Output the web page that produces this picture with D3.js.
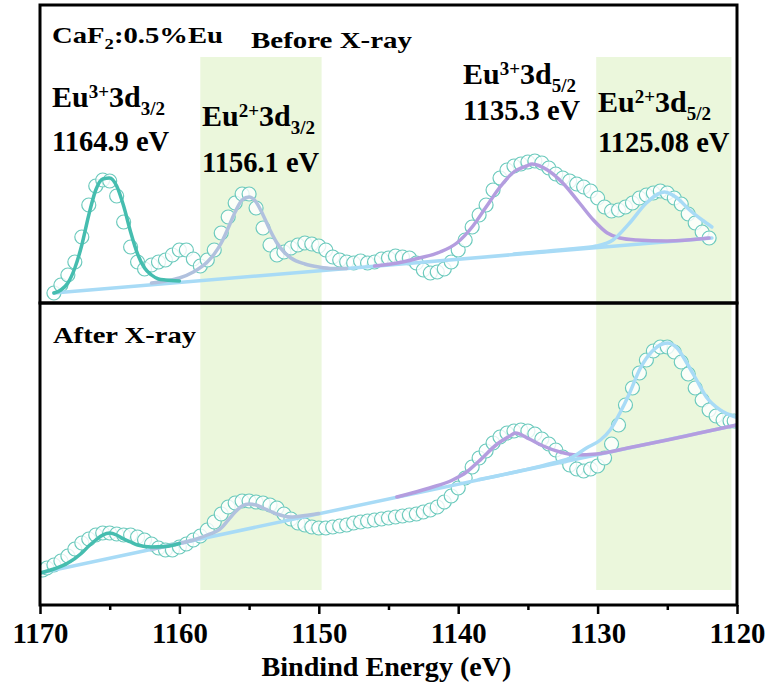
<!DOCTYPE html>
<html><head><meta charset="utf-8">
<script src="https://cdn.jsdelivr.net/npm/d3@7"></script>
<style>
body{margin:0;background:#fff}
svg{display:block}
text{font-family:"Liberation Serif","Times New Roman",serif;font-weight:bold;fill:#000}
</style>
</head><body>
<svg id="chart" width="770" height="682"></svg>
<script>
// ---------- data ----------
const xTicks = [1170, 1160, 1150, 1140, 1130, 1120];
const xMinorTicks = [1165, 1155, 1145, 1135, 1125];
const bands = [[1158.5, 1149.8], [1130.1, 1120.4]];

// Before X-ray: measured spectrum [binding energy eV, intensity a.u.]
const beforeData = [[1169.0,10],[1168.5,18],[1168.0,28],[1167.5,41],[1167.0,66],[1166.5,98],[1166.0,117],[1165.5,123],[1165.0,122],[1164.5,107],[1164.0,81],[1163.5,56],[1163.0,41],[1162.5,34],[1162.0,38],[1161.5,41],[1161.0,43],[1160.5,48],[1160.0,53],[1159.5,53],[1159.0,44],[1158.5,37],[1158.0,43],[1157.5,53],[1157.0,70],[1156.5,86],[1156.0,100],[1155.5,109],[1155.0,109],[1154.5,95],[1154.0,75],[1153.5,58],[1153.0,48],[1152.5,51],[1152.0,55],[1151.5,58],[1151.0,60],[1150.5,59],[1150.0,57],[1149.5,53],[1149.0,46],[1148.5,43],[1148.0,41],[1147.5,40],[1147.0,42],[1146.5,40],[1146.0,41],[1145.5,44],[1145.0,45],[1144.5,47],[1144.0,46],[1143.5,45],[1143.0,40],[1142.5,33],[1142.0,30],[1141.5,31],[1141.0,34],[1140.5,41],[1140.0,53],[1139.5,63],[1139.0,76],[1138.5,88],[1138.0,98],[1137.5,113],[1137.0,125],[1136.5,133],[1136.0,137],[1135.5,139],[1135.0,141],[1134.5,142],[1134.0,140],[1133.5,135],[1133.0,129],[1132.5,125],[1132.0,122],[1131.5,119],[1131.0,116],[1130.5,112],[1130.0,105],[1129.5,96],[1129.0,92],[1128.5,93],[1128.0,96],[1127.5,100],[1127.0,105],[1126.5,108],[1126.0,110],[1125.5,112],[1125.0,110],[1124.5,105],[1124.0,99],[1123.5,89],[1123.0,80],[1122.5,71],[1122.0,65]];
const beforeBaseline = [[1169.0,10],[1121.8,65]];
const beforeEu3_32 = [[1169.0,10],[1168.5,13],[1168.0,20],[1167.5,35],[1167.0,58],[1166.5,88],[1166.0,113],[1165.5,124],[1165.0,125],[1164.5,117],[1164.0,97],[1163.5,71],[1163.0,49],[1162.5,35],[1162.0,28],[1161.5,24],[1161.0,23],[1160.0,22]];
const beforeEu2_32 = [[1162.0,20],[1161.0,22],[1160.0,25],[1159.0,31],[1158.0,41],[1157.5,49],[1157.0,60],[1156.5,75],[1156.0,91],[1155.5,103],[1155.0,106],[1154.5,101],[1154.0,88],[1153.5,73],[1153.0,60],[1152.5,51],[1152.0,45],[1151.0,39],[1150.0,36],[1149.0,34.5],[1148.0,34.5]];
const beforeEu3_52 = [[1146.0,37],[1144.0,41],[1142.8,45],[1141.3,51],[1140.1,60],[1139.0,76],[1138.0,96],[1137.0,116],[1136.1,130],[1135.1,137],[1134.7,139],[1133.6,133],[1132.5,120],[1131.3,100],[1130.3,83],[1129.3,70],[1128.4,65],[1127.2,63],[1125.0,62],[1122.0,65]];
const beforeEu2_52 = [[1136.0,49],[1132.0,54],[1130.1,57],[1128.9,63],[1127.7,80],[1126.5,100],[1125.5,110],[1125.2,111],[1124.3,105],[1123.4,93],[1122.5,83],[1121.8,76]];

// After X-ray
const afterData = [[1169.8,35],[1169.5,37],[1169.0,40],[1168.5,44],[1168.0,49],[1167.5,56],[1167.0,62],[1166.5,66],[1166.0,70],[1165.5,72],[1165.0,72],[1164.5,71],[1164.0,70],[1163.5,70],[1163.0,68],[1162.5,65],[1162.0,61],[1161.5,57],[1161.0,55],[1160.5,55],[1160.0,58],[1159.5,61],[1159.0,65],[1158.5,69],[1158.0,75],[1157.5,83],[1157.0,91],[1156.5,98],[1156.0,102],[1155.5,104],[1155.0,104],[1154.5,103],[1154.0,102],[1153.5,100],[1153.0,97],[1152.5,91],[1152.0,86],[1151.5,82],[1151.0,80],[1150.5,78],[1150.0,77],[1149.5,77],[1149.0,78],[1148.5,79],[1148.0,80],[1147.5,82],[1147.0,83],[1146.5,84],[1146.0,85],[1145.5,86],[1145.0,87],[1144.5,88],[1144.0,89],[1143.5,90],[1143.0,91],[1142.5,93],[1142.0,95],[1141.5,98],[1141.0,103],[1140.5,109],[1140.0,117],[1139.5,127],[1139.0,138],[1138.5,147],[1138.0,154],[1137.5,162],[1137.0,168],[1136.5,172],[1136.0,174],[1135.5,175],[1135.0,174],[1134.5,171],[1134.0,166],[1133.5,161],[1133.0,155],[1132.5,148],[1132.0,140],[1131.5,136],[1131.0,134],[1130.5,136],[1130.0,139],[1129.5,147],[1129.0,161],[1128.5,180],[1128.0,200],[1127.5,217],[1127.0,232],[1126.5,245],[1126.0,254],[1125.5,258],[1125.0,258],[1124.5,253],[1124.0,243],[1123.5,231],[1123.0,217],[1122.5,205],[1122.0,195],[1121.5,189],[1121.0,185],[1120.5,184],[1120.2,184]];
const afterBaseline = [[1170.0,32],[1120.0,180]];
const afterEu3_32 = [[1170.0,32],[1169.0,36],[1168.0,42],[1167.0,52],[1166.5,59],[1166.0,65],[1165.5,70],[1165.0,72],[1164.5,70],[1164.0,66],[1163.5,63],[1163.0,60],[1162.0,58],[1161.0,58.5],[1160.0,61.5]];
const afterEu2_32 = [[1162.0,56],[1160.0,61.5],[1159.0,65],[1158.0,70],[1157.0,77],[1156.5,85],[1156.0,93],[1155.5,99],[1155.0,101],[1154.5,100],[1154.0,97],[1153.5,94],[1153.0,91],[1152.0,88],[1151.0,89.5],[1150.0,91.5]];
const afterEu3_52 = [[1144.4,108],[1142.05,117],[1140.4,125],[1139.4,133],[1138.5,144],[1137.2,161],[1136.3,169],[1135.9,172],[1134.9,166],[1133.9,159],[1132.7,153],[1131.5,150],[1130.1,151],[1127.5,158],[1125.0,165],[1122.7,172],[1120.0,180]];
const afterEu2_52 = [[1138.5,125.5],[1135.6,134],[1133.2,142],[1131.8,148],[1130.8,157],[1129.8,165],[1129.1,175],[1128.4,192],[1127.7,212],[1127.0,235],[1126.0,255],[1125.0,262],[1124.3,257],[1123.6,242],[1122.9,225],[1122.2,208],[1121.2,195],[1120.1,188]];

// ---------- layout ----------
const svg = d3.select("#chart");
const L = 40, R = 737, T1 = 5, MID = 303, B2 = 605;
const x = d3.scaleLinear().domain([1170, 1120]).range([L, R]);
const yTop = d3.scaleLinear().domain([0, 298]).range([MID, T1]);
const yBot = d3.scaleLinear().domain([0, 302]).range([B2, MID]);

const colors = {
  band: "#ebf7dc",
  circle: "#6ccabd",
  eu3_32: "#45bdaf",
  eu2_32: "#b1c1de",
  eu3_52: "#b49ddf",
  eu2_52: "#a8dbf6",
  baseline: "#a8dbf6"
};

// bands spanning both panels
svg.append("g").selectAll("rect").data(bands).join("rect")
  .attr("x", d => x(d[0]))
  .attr("width", d => x(d[1]) - x(d[0]))
  .attr("y", yTop(246))
  .attr("height", yBot(15) - yTop(246))
  .attr("fill", colors.band);

function drawPanel(y, data, fits, clipId, top, bottom) {
  svg.append("clipPath").attr("id", clipId).append("rect")
    .attr("x", L).attr("y", top).attr("width", R - L).attr("height", bottom - top);
  const g = svg.append("g").attr("clip-path", `url(#${clipId})`);
  g.append("g").selectAll("circle").data(data).join("circle")
    .attr("cx", d => x(d[0])).attr("cy", d => y(d[1])).attr("r", 7)
    .attr("fill", "#fff").attr("fill-opacity", 0.8)
    .attr("stroke", colors.circle).attr("stroke-width", 1.2);
  const line = d3.line().x(d => x(d[0])).y(d => y(d[1])).curve(d3.curveMonotoneX);
  fits.forEach(f => {
    g.append("path").datum(f.data).attr("d", line)
      .attr("fill", "none").attr("stroke", f.color).attr("stroke-width", 3.5)
      .attr("stroke-linecap", "round").attr("stroke-linejoin", "round");
  });
}

drawPanel(yTop, beforeData, [
  {data: beforeBaseline, color: colors.baseline},
  {data: beforeEu2_32, color: colors.eu2_32},
  {data: beforeEu3_52, color: colors.eu3_52},
  {data: beforeEu2_52, color: colors.eu2_52},
  {data: beforeEu3_32, color: colors.eu3_32}
], "clipTop", T1, MID);

drawPanel(yBot, afterData, [
  {data: afterBaseline, color: colors.baseline},
  {data: afterEu2_32, color: colors.eu2_32},
  {data: afterEu3_52, color: colors.eu3_52},
  {data: afterEu2_52, color: colors.eu2_52},
  {data: afterEu3_32, color: colors.eu3_32}
], "clipBot", MID, B2);

// frames
svg.append("rect").attr("x", L).attr("y", T1).attr("width", R - L).attr("height", MID - T1)
  .attr("fill", "none").attr("stroke", "#000").attr("stroke-width", 3);
svg.append("rect").attr("x", L).attr("y", MID).attr("width", R - L).attr("height", B2 - MID)
  .attr("fill", "none").attr("stroke", "#000").attr("stroke-width", 3);

// axis
const axis = d3.axisBottom(x).tickValues(xTicks).tickSize(9).tickPadding(8).tickFormat(d3.format("d"));
const ag = svg.append("g").attr("transform", `translate(0,${B2})`).call(axis);
ag.select(".domain").remove();
ag.selectAll(".tick line").attr("stroke", "#000").attr("stroke-width", 2.5);
ag.selectAll(".tick text").attr("font-size", 29).attr("fill", "#000")
  .attr("textLength", 56).attr("lengthAdjust", "spacingAndGlyphs");
const minor = d3.axisBottom(x).tickValues(xMinorTicks).tickSize(5).tickFormat("");
const mg = svg.append("g").attr("transform", `translate(0,${B2})`).call(minor);
mg.select(".domain").remove();
mg.selectAll(".tick line").attr("stroke", "#000").attr("stroke-width", 2.5);

svg.append("text").attr("x", (L + R) / 2 - 2).attr("y", 676).attr("text-anchor", "middle")
  .attr("font-size", 28).attr("textLength", 250).attr("lengthAdjust", "spacingAndGlyphs")
  .text("Bindind Energy (eV)");

// annotations
function plain(txt, px, py, size, len) {
  const t = svg.append("text").attr("x", px).attr("y", py).attr("font-size", size).text(txt);
  if (len) t.attr("textLength", len).attr("lengthAdjust", "spacingAndGlyphs");
}
function species(px, py, ion, orb) {
  const t = svg.append("text").attr("x", px).attr("y", py).attr("font-size", 30);
  t.append("tspan").text("Eu");
  t.append("tspan").attr("font-size", 19).attr("dy", -9).text(ion);
  t.append("tspan").attr("dy", 9).text("3d");
  t.append("tspan").attr("font-size", 19).attr("dy", 8).text(orb);
}
const ca = svg.append("text").attr("x", 52).attr("y", 43).attr("font-size", 23)
  .attr("textLength", 171).attr("lengthAdjust", "spacingAndGlyphs");
ca.append("tspan").text("CaF");
ca.append("tspan").attr("font-size", 15).attr("dy", 6).text("2");
ca.append("tspan").attr("dy", -6).text(":0.5%Eu");
plain("Before X-ray", 251, 48, 23, 161);
plain("After X-ray", 53, 343, 24, 143);

species(52, 107, "3+", "3/2");
plain("1164.9 eV", 52, 151, 28.5);
species(202, 126, "2+", "3/2");
plain("1156.1 eV", 202, 172, 28.5);
species(463, 84, "3+", "5/2");
plain("1135.3 eV", 463, 120, 28.5);
species(598, 112, "2+", "5/2");
plain("1125.08 eV", 598, 152, 28.5);
</script>
</body></html>
